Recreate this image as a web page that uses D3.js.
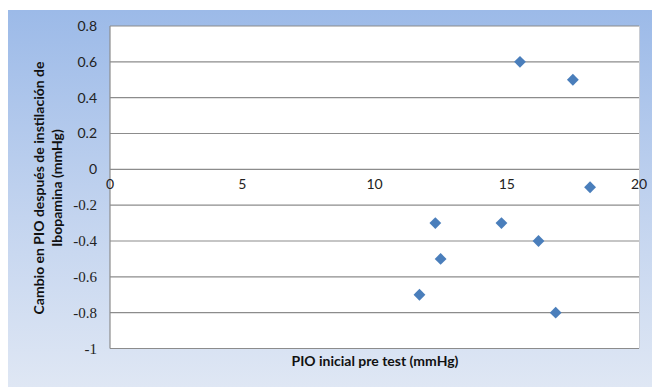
<!DOCTYPE html>
<html lang="es">
<head>
<meta charset="UTF-8">
<title>Cambio en PIO</title>
<script src="https://d3js.org/d3.v7.min.js"></script>
<style>
    body { margin: 0; background: #fff; }
    svg { display: block; }
</style>
</head>
<body>
<script>
    // data
    var pioInicial = [15.5, 17.5, 18.15, 12.3, 14.8, 16.2, 12.5, 11.7, 16.85];
    var cambioPio  = [0.6, 0.5, -0.1, -0.3, -0.3, -0.4, -0.5, -0.7, -0.8];
    var xTicks = [0, 5, 10, 15, 20];
    var yTicks = [0.8, 0.6, 0.4, 0.2, 0, -0.2, -0.4, -0.6, -0.8, -1];

    var w = 652, h = 387;
    var plotL = 110, plotR = 639, plotT = 26, plotB = 348.5;
    var sans = "Lato, 'Open Sans', sans-serif";

    var svg = d3.select("body").append("svg")
        .attr("width", w)
        .attr("height", h);

    var grad = svg.append("defs").append("linearGradient")
        .attr("id", "bg")
        .attr("x1", 0).attr("y1", 0).attr("x2", 0).attr("y2", 1);
    grad.append("stop").attr("offset", "0%").attr("stop-color", "#9cbae8");
    grad.append("stop").attr("offset", "55%").attr("stop-color", "#c3d4ef");
    grad.append("stop").attr("offset", "100%").attr("stop-color", "#dfe7f4");

    svg.append("rect")
        .attr("x", 8).attr("y", 10)
        .attr("width", w - 8).attr("height", h - 10)
        .attr("fill", "url(#bg)");

    svg.append("rect")
        .attr("x", plotL).attr("y", plotT)
        .attr("width", plotR - plotL).attr("height", plotB - plotT)
        .attr("fill", "#fff");

    var x = d3.scaleLinear().domain([0, 20]).range([plotL, plotR]);
    var y = d3.scaleLinear().domain([-1, 0.8]).range([plotB, plotT]);

    // gridlines
    svg.selectAll("line.grid")
        .data(yTicks)
        .enter()
        .append("line")
        .attr("class", "grid")
        .attr("x1", plotL).attr("x2", plotR)
        .attr("y1", function(d){ return y(d); })
        .attr("y2", function(d){ return y(d); })
        .attr("stroke", "#8c8c8c")
        .attr("stroke-width", 1.2);

    // right edge shadow
    svg.append("line")
        .attr("x1", plotR + 0.5).attr("x2", plotR + 0.5)
        .attr("y1", plotT).attr("y2", plotB)
        .attr("stroke", "#c8ccd4");

    // y axis line
    svg.append("line")
        .attr("x1", plotL).attr("x2", plotL)
        .attr("y1", plotT).attr("y2", plotB)
        .attr("stroke", "#8c8c8c")
        .attr("stroke-width", 1.2);

    // y tick labels (negative ones look serif in the reference)
    svg.selectAll("text.ytick")
        .data(yTicks)
        .enter()
        .append("text")
        .attr("class", "ytick")
        .attr("x", plotL - 13)
        .attr("y", function(d){ return y(d); })
        .attr("dy", "0.35em")
        .attr("text-anchor", "end")
        .attr("font-family", function(d){ return d < 0 ? "'Liberation Serif', 'DejaVu Serif', serif" : sans; })
        .attr("font-size", function(d){ return d < 0 ? "15px" : "14px"; })
        .attr("fill", "#222")
        .text(function(d){ return String(d); });

    // x tick labels sit just under the zero line
    svg.selectAll("text.xtick")
        .data(xTicks)
        .enter()
        .append("text")
        .attr("class", "xtick")
        .attr("x", function(d){ return x(d); })
        .attr("y", y(0) + 20)
        .attr("text-anchor", "middle")
        .attr("font-family", sans)
        .attr("font-size", "14px")
        .attr("fill", "#222")
        .text(function(d){ return d; });

    // points
    var pts = pioInicial.map(function(v, i){ return [v, cambioPio[i]]; });
    svg.selectAll("path.pt")
        .data(pts)
        .enter()
        .append("path")
        .attr("class", "pt")
        .attr("d", d3.symbol().type(d3.symbolSquare).size(70))
        .attr("transform", function(d){ return "translate(" + x(d[0]) + "," + y(d[1]) + ") rotate(45)"; })
        .attr("fill", "#4a7ebb");

    // titles
    svg.append("text")
        .attr("x", 375).attr("y", 366)
        .attr("text-anchor", "middle")
        .attr("font-family", sans)
        .attr("font-size", "14px")
        .attr("font-weight", "bold")
        .attr("fill", "#111")
        .text("PIO inicial pre test (mmHg)");

    var yt = svg.append("text")
        .attr("transform", "translate(44,188) rotate(-90)")
        .attr("text-anchor", "middle")
        .attr("font-family", sans)
        .attr("font-size", "14px")
        .attr("font-weight", "bold")
        .attr("fill", "#111");
    yt.append("tspan").attr("x", 0).attr("dy", 0).text("Cambio en PIO después de instilación de");
    yt.append("tspan").attr("x", 0).attr("dy", 18).text("Ibopamina (mmHg)");
</script>
</body>
</html>
